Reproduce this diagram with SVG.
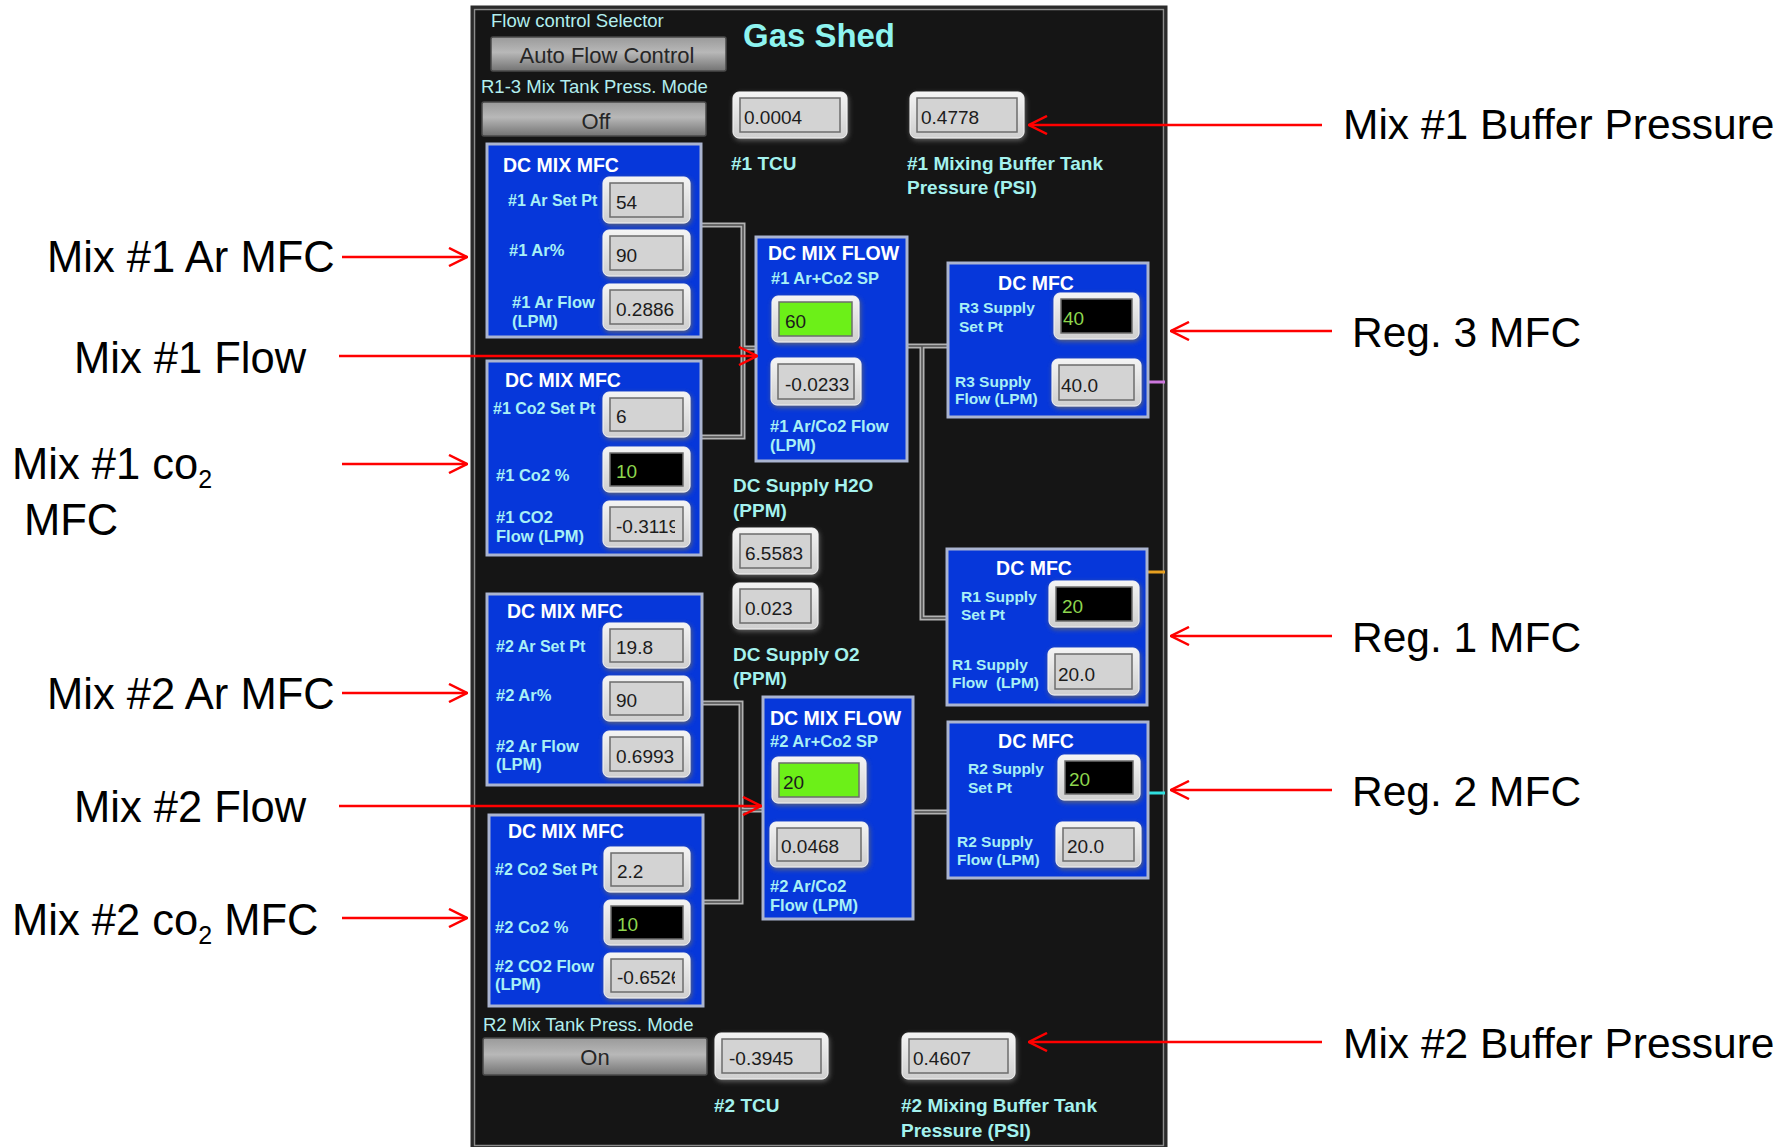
<svg xmlns="http://www.w3.org/2000/svg" width="1787" height="1147" viewBox="0 0 1787 1147">
<style>
  .ann{font-family:"Liberation Sans",Arial,sans-serif;font-size:43.5px;fill:#000}
  .annr{font-family:"Liberation Sans",Arial,sans-serif;font-size:42.5px;fill:#000}
  .sub{font-size:25px}
  .arrow{stroke:#ff0000;stroke-width:2.5;fill:none;marker-end:url(#head)}
  .ui{font-family:"Liberation Sans",Arial,sans-serif}
  .plain{font-size:18.5px;fill:#b2eeee}
  .olbl{font-size:19px;font-weight:bold;fill:#a4f2ee}
  .ttl{font-size:19.5px;font-weight:bold;fill:#ffffff}
  .mid{text-anchor:middle}
  .blbl{font-size:16.5px;font-weight:bold;fill:#a8f0f6}
  .nar{font-size:16px}
  .rlbl{font-size:15.5px;font-weight:bold;fill:#a8f0f6;white-space:pre}
  .blue{fill:#0637da;stroke:#aab4d0;stroke-width:3}
  .fr{fill:url(#frameG);stroke:#f5f5f5;stroke-width:1;filter:url(#halo)}
  .fld{fill:#d3d3d3;stroke:#6c6c6c;stroke-width:1.5}
  .blk{fill:#000000}
  .grn{fill:#6cf018}
  .val{font-size:19px;fill:#1c1c1c}
  .g{fill:#8ed64e}
  .btn{fill:url(#btnG);stroke:#4a4a4a;stroke-width:1.5}
  .btxt{font-size:22px;fill:#262626;text-anchor:middle}
  .pipe{fill:none;stroke:#b2b2b2;stroke-width:5}
  .pipe-in{fill:none;stroke:#4e4e4e;stroke-width:1.5}
</style>
<defs>
  <marker id="head" viewBox="0 0 20 20" refX="19" refY="10" markerWidth="20" markerHeight="20" markerUnits="userSpaceOnUse" orient="auto">
    <path d="M1,1 L19,10 L1,19" fill="none" stroke="#ff0000" stroke-width="2.5"/>
  </marker>
  <linearGradient id="frameG" x1="0" y1="0" x2="0" y2="1">
    <stop offset="0" stop-color="#f4f4f4"/>
    <stop offset="1" stop-color="#cfcfcf"/>
  </linearGradient>
  <linearGradient id="btnG" x1="0" y1="0" x2="0" y2="1">
    <stop offset="0" stop-color="#9a9a9a"/>
    <stop offset="0.45" stop-color="#b8b8b8"/>
    <stop offset="1" stop-color="#737373"/>
  </linearGradient>
  <filter id="halo" x="-20%" y="-25%" width="140%" height="160%">
    <feDropShadow dx="1" dy="2" stdDeviation="2.5" flood-color="#6b6b6b" flood-opacity="0.9"/>
  </filter>
  <clipPath id="clipA"><rect x="610" y="507" width="65" height="34"/></clipPath>
  <clipPath id="clipB"><rect x="611" y="959" width="64" height="33"/></clipPath>
</defs>

<rect x="0" y="0" width="1787" height="1147" fill="#ffffff"/>

<!-- front panel -->
<g id="panel">
  <rect x="472" y="7" width="694" height="1141" fill="#151515" stroke="#2b2b2b" stroke-width="3"/>
  <rect x="474.5" y="9.5" width="689" height="1136" fill="none" stroke="#8c8c8c" stroke-width="1.5"/>
  <text class="ui" x="743" y="47" font-size="34" font-weight="bold" fill="#8ef4f0" textLength="152" lengthAdjust="spacingAndGlyphs">Gas Shed</text>
</g>

<!-- colour stubs on the panel's right edge -->
<g id="stubs">
  <line x1="1149" y1="382" x2="1165" y2="382" stroke="#cc77dd" stroke-width="3"/>
  <line x1="1148" y1="572" x2="1165" y2="572" stroke="#e8a020" stroke-width="3"/>
  <line x1="1149" y1="793" x2="1165" y2="793" stroke="#30e0e0" stroke-width="3"/>
</g>

<!-- pipes between blocks -->
<g id="connectors">
  <path class="pipe" d="M701,225 H743 V437 H701 M743,348 H756"/>
  <path class="pipe-in" d="M701,225 H743 V437 H701 M743,348 H756"/>
  <path class="pipe" d="M907,346 H948 M922,346 V618 H947"/>
  <path class="pipe-in" d="M907,346 H948 M922,346 V618 H947"/>
  <path class="pipe" d="M702,703 H741 V902 H703 M741,810 H763"/>
  <path class="pipe-in" d="M702,703 H741 V902 H703 M741,810 H763"/>
  <path class="pipe" d="M913,812 H948"/>
  <path class="pipe-in" d="M913,812 H948"/>
</g>

<!-- selector controls -->
<g id="selector">
  <text class="ui plain" x="491" y="27" font-size="18">Flow control Selector</text>
  <rect class="btn" x="491" y="37" width="235" height="34" rx="2"/>
  <text class="ui btxt" x="607" y="63">Auto Flow Control</text>
</g>
<g id="mode1">
  <text class="ui plain" x="481" y="93">R1-3 Mix Tank Press. Mode</text>
  <rect class="btn" x="482" y="102" width="224" height="34" rx="2"/>
  <text class="ui btxt" x="596" y="129">Off</text>
</g>
<g id="tcu1">
  <rect class="fr" x="733" y="92" width="114" height="46" rx="6"/>
  <rect class="fld" x="740" y="98" width="100" height="34"/>
  <text class="ui val" x="744" y="124">0.0004</text>
  <text class="ui olbl" x="731" y="170">#1 TCU</text>
</g>
<g id="buffer1">
  <rect class="fr" x="910" y="92" width="114" height="46" rx="6"/>
  <rect class="fld" x="917" y="98" width="100" height="34"/>
  <text class="ui val" x="921" y="124">0.4778</text>
  <text class="ui olbl" x="907" y="170">#1 Mixing Buffer Tank</text>
  <text class="ui olbl" x="907" y="194">Pressure (PSI)</text>
</g>

<!-- mix 1 argon MFC -->
<g id="mix1-ar">
  <rect class="blue" x="487" y="144" width="214" height="193"/>
  <text class="ui ttl" x="503" y="172">DC MIX MFC</text>
  <text class="ui blbl nar" x="508" y="206">#1 Ar Set Pt</text>
  <text class="ui blbl" x="509" y="256">#1 Ar%</text>
  <text class="ui blbl" x="512" y="308">#1 Ar Flow</text>
  <text class="ui blbl" x="512" y="327">(LPM)</text>
  <rect class="fr" x="603" y="177" width="87" height="46" rx="6"/>
  <rect class="fld" x="610" y="183" width="73" height="34"/>
  <text class="ui val" x="616" y="209">54</text>
  <rect class="fr" x="603" y="230" width="87" height="46" rx="6"/>
  <rect class="fld" x="610" y="236" width="73" height="34"/>
  <text class="ui val" x="616" y="262">90</text>
  <rect class="fr" x="603" y="284" width="87" height="46" rx="6"/>
  <rect class="fld" x="610" y="290" width="73" height="34"/>
  <text class="ui val" x="616" y="316">0.2886</text>
</g>

<!-- mix 1 CO2 MFC -->
<g id="mix1-co2">
  <rect class="blue" x="487" y="361" width="214" height="194"/>
  <text class="ui ttl" x="505" y="387">DC MIX MFC</text>
  <text class="ui blbl nar" x="493" y="414">#1 Co2 Set Pt</text>
  <text class="ui blbl" x="496" y="481">#1 Co2 %</text>
  <text class="ui blbl" x="496" y="523">#1 CO2</text>
  <text class="ui blbl" x="496" y="542">Flow (LPM)</text>
  <rect class="fr" x="603" y="392" width="87" height="45" rx="6"/>
  <rect class="fld" x="610" y="398" width="73" height="33"/>
  <text class="ui val" x="616" y="423">6</text>
  <rect class="fr" x="603" y="447" width="87" height="45" rx="6"/>
  <rect class="fld blk" x="610" y="453" width="73" height="33"/>
  <text class="ui val g" x="616" y="478">10</text>
  <rect class="fr" x="603" y="501" width="87" height="46" rx="6"/>
  <rect class="fld" x="610" y="507" width="73" height="34"/>
  <text class="ui val" x="616" y="533" font-size="19.5" clip-path="url(#clipA)">-0.3119</text>
</g>

<!-- mix 1 flow -->
<g id="mix1-flow">
  <rect class="blue" x="756" y="237" width="151" height="224"/>
  <text class="ui ttl" x="768" y="260">DC MIX FLOW</text>
  <text class="ui blbl" x="771" y="284">#1 Ar+Co2 SP</text>
  <rect class="fr" x="772" y="296" width="87" height="46" rx="6"/>
  <rect class="fld grn" x="779" y="302" width="73" height="34"/>
  <text class="ui val" x="785" y="328">60</text>
  <rect class="fr" x="771" y="358" width="90" height="47" rx="6"/>
  <rect class="fld" x="778" y="364" width="76" height="35"/>
  <text class="ui val" x="785" y="391">-0.0233</text>
  <text class="ui blbl" x="770" y="432">#1 Ar/Co2 Flow</text>
  <text class="ui blbl" x="770" y="451">(LPM)</text>
</g>

<!-- supply moisture and oxygen -->
<g id="supply">
  <text class="ui olbl" x="733" y="492">DC Supply H2O</text>
  <text class="ui olbl" x="733" y="517">(PPM)</text>
  <rect class="fr" x="733" y="528" width="85" height="46" rx="6"/>
  <rect class="fld" x="740" y="534" width="71" height="34"/>
  <text class="ui val" x="745" y="560">6.5583</text>
  <rect class="fr" x="733" y="583" width="85" height="46" rx="6"/>
  <rect class="fld" x="740" y="589" width="71" height="34"/>
  <text class="ui val" x="745" y="615">0.023</text>
  <text class="ui olbl" x="733" y="661">DC Supply O2</text>
  <text class="ui olbl" x="733" y="685">(PPM)</text>
</g>

<!-- mix 2 argon MFC -->
<g id="mix2-ar">
  <rect class="blue" x="487" y="594" width="215" height="191"/>
  <text class="ui ttl" x="507" y="618">DC MIX MFC</text>
  <text class="ui blbl nar" x="496" y="652">#2 Ar Set Pt</text>
  <text class="ui blbl" x="496" y="701">#2 Ar%</text>
  <text class="ui blbl" x="496" y="752">#2 Ar Flow</text>
  <text class="ui blbl" x="496" y="770">(LPM)</text>
  <rect class="fr" x="603" y="623" width="87" height="45" rx="6"/>
  <rect class="fld" x="610" y="629" width="73" height="33"/>
  <text class="ui val" x="616" y="654">19.8</text>
  <rect class="fr" x="603" y="676" width="87" height="45" rx="6"/>
  <rect class="fld" x="610" y="682" width="73" height="33"/>
  <text class="ui val" x="616" y="707">90</text>
  <rect class="fr" x="603" y="731" width="87" height="46" rx="6"/>
  <rect class="fld" x="610" y="737" width="73" height="34"/>
  <text class="ui val" x="616" y="763">0.6993</text>
</g>

<!-- mix 2 CO2 MFC -->
<g id="mix2-co2">
  <rect class="blue" x="489" y="815" width="214" height="191"/>
  <text class="ui ttl" x="508" y="838">DC MIX MFC</text>
  <text class="ui blbl nar" x="495" y="875">#2 Co2 Set Pt</text>
  <text class="ui blbl" x="495" y="933">#2 Co2 %</text>
  <text class="ui blbl" x="495" y="972">#2 CO2 Flow</text>
  <text class="ui blbl" x="495" y="990">(LPM)</text>
  <rect class="fr" x="604" y="847" width="86" height="45" rx="6"/>
  <rect class="fld" x="611" y="853" width="72" height="33"/>
  <text class="ui val" x="617" y="878">2.2</text>
  <rect class="fr" x="604" y="900" width="86" height="45" rx="6"/>
  <rect class="fld blk" x="611" y="906" width="72" height="33"/>
  <text class="ui val g" x="617" y="931">10</text>
  <rect class="fr" x="604" y="953" width="86" height="45" rx="6"/>
  <rect class="fld" x="611" y="959" width="72" height="33"/>
  <text class="ui val" x="617" y="984" font-size="19.5" clip-path="url(#clipB)">-0.6526</text>
</g>

<!-- mix 2 flow -->
<g id="mix2-flow">
  <rect class="blue" x="763" y="697" width="150" height="222"/>
  <text class="ui ttl" x="770" y="725">DC MIX FLOW</text>
  <text class="ui blbl" x="770" y="747">#2 Ar+Co2 SP</text>
  <rect class="fr" x="772" y="757" width="94" height="46" rx="6"/>
  <rect class="fld grn" x="779" y="763" width="80" height="34"/>
  <text class="ui val" x="783" y="789">20</text>
  <rect class="fr" x="770" y="822" width="98" height="45" rx="6"/>
  <rect class="fld" x="777" y="828" width="84" height="33"/>
  <text class="ui val" x="781" y="853">0.0468</text>
  <text class="ui blbl" x="770" y="892">#2 Ar/Co2</text>
  <text class="ui blbl" x="770" y="911">Flow (LPM)</text>
</g>

<!-- region 3 supply MFC -->
<g id="reg3">
  <rect class="blue" x="948" y="263" width="200" height="154"/>
  <text class="ui ttl mid" x="1036" y="290">DC MFC</text>
  <text class="ui rlbl" x="959" y="313">R3 Supply</text>
  <text class="ui rlbl" x="959" y="332">Set Pt</text>
  <text class="ui rlbl" x="955" y="387">R3 Supply</text>
  <text class="ui rlbl" x="955" y="404">Flow (LPM)</text>
  <rect class="fr" x="1054" y="293" width="85" height="46" rx="6"/>
  <rect class="fld blk" x="1061" y="299" width="71" height="34"/>
  <text class="ui val g" x="1063" y="325">40</text>
  <rect class="fr" x="1052" y="359" width="89" height="47" rx="6"/>
  <rect class="fld" x="1059" y="365" width="75" height="35"/>
  <text class="ui val" x="1061" y="392">40.0</text>
</g>

<!-- region 1 supply MFC -->
<g id="reg1">
  <rect class="blue" x="947" y="549" width="200" height="156"/>
  <text class="ui ttl mid" x="1034" y="575">DC MFC</text>
  <text class="ui rlbl" x="961" y="602">R1 Supply</text>
  <text class="ui rlbl" x="961" y="620">Set Pt</text>
  <text class="ui rlbl" x="952" y="670">R1 Supply</text>
  <text class="ui rlbl" x="952" y="688">Flow  (LPM)</text>
  <rect class="fr" x="1049" y="581" width="90" height="46" rx="6"/>
  <rect class="fld blk" x="1056" y="587" width="76" height="34"/>
  <text class="ui val g" x="1062" y="613">20</text>
  <rect class="fr" x="1048" y="648" width="91" height="47" rx="6"/>
  <rect class="fld" x="1055" y="654" width="77" height="35"/>
  <text class="ui val" x="1058" y="681">20.0</text>
</g>

<!-- region 2 supply MFC -->
<g id="reg2">
  <rect class="blue" x="948" y="722" width="200" height="156"/>
  <text class="ui ttl mid" x="1036" y="748">DC MFC</text>
  <text class="ui rlbl" x="968" y="774">R2 Supply</text>
  <text class="ui rlbl" x="968" y="793">Set Pt</text>
  <text class="ui rlbl" x="957" y="847">R2 Supply</text>
  <text class="ui rlbl" x="957" y="865">Flow (LPM)</text>
  <rect class="fr" x="1058" y="755" width="82" height="45" rx="6"/>
  <rect class="fld blk" x="1065" y="761" width="68" height="33"/>
  <text class="ui val g" x="1069" y="786">20</text>
  <rect class="fr" x="1056" y="822" width="85" height="45" rx="6"/>
  <rect class="fld" x="1063" y="828" width="71" height="33"/>
  <text class="ui val" x="1067" y="853">20.0</text>
</g>

<!-- mix 2 tank pressure controls -->
<g id="mode2">
  <text class="ui plain" x="483" y="1031">R2 Mix Tank Press. Mode</text>
  <rect class="btn" x="483" y="1038" width="224" height="37" rx="2"/>
  <text class="ui btxt" x="595" y="1065">On</text>
</g>
<g id="tcu2">
  <rect class="fr" x="715" y="1033" width="113" height="46" rx="6"/>
  <rect class="fld" x="722" y="1039" width="99" height="34"/>
  <text class="ui val" x="729" y="1065">-0.3945</text>
  <text class="ui olbl" x="714" y="1112">#2 TCU</text>
</g>
<g id="buffer2">
  <rect class="fr" x="902" y="1033" width="113" height="46" rx="6"/>
  <rect class="fld" x="909" y="1039" width="99" height="34"/>
  <text class="ui val" x="913" y="1065">0.4607</text>
  <text class="ui olbl" x="901" y="1112">#2 Mixing Buffer Tank</text>
  <text class="ui olbl" x="901" y="1137">Pressure (PSI)</text>
</g>

<!-- callout arrows -->
<g id="callouts">
  <line class="arrow" x1="342" y1="257" x2="467" y2="257"/>
  <line class="arrow" x1="339" y1="356" x2="757" y2="356"/>
  <line class="arrow" x1="342" y1="464" x2="467" y2="464"/>
  <line class="arrow" x1="342" y1="693" x2="467" y2="693"/>
  <line class="arrow" x1="339" y1="806" x2="761" y2="806"/>
  <line class="arrow" x1="342" y1="918" x2="467" y2="918"/>
  <line class="arrow" x1="1322" y1="125" x2="1029" y2="125"/>
  <line class="arrow" x1="1332" y1="331" x2="1171" y2="331"/>
  <line class="arrow" x1="1332" y1="636" x2="1171" y2="636"/>
  <line class="arrow" x1="1332" y1="790" x2="1171" y2="790"/>
  <line class="arrow" x1="1322" y1="1042" x2="1029" y2="1042"/>
</g>

<!-- callout labels -->
<g id="labels">
  <text class="ann" x="47" y="272">Mix #1 Ar MFC</text>
  <text class="ann" x="74" y="373">Mix #1 Flow</text>
  <text class="ann" x="12" y="479">Mix #1 co<tspan class="sub" dy="9">2</tspan></text>
  <text class="ann" x="24" y="535">MFC</text>
  <text class="ann" x="47" y="709">Mix #2 Ar MFC</text>
  <text class="ann" x="74" y="822">Mix #2 Flow</text>
  <text class="ann" x="12" y="935">Mix #2 co<tspan class="sub" dy="9">2</tspan><tspan dy="-9"> MFC</tspan></text>
  <text class="annr" x="1343" y="139">Mix #1 Buffer Pressure</text>
  <text class="annr" x="1352" y="347">Reg. 3 MFC</text>
  <text class="annr" x="1352" y="652">Reg. 1 MFC</text>
  <text class="annr" x="1352" y="806">Reg. 2 MFC</text>
  <text class="annr" x="1343" y="1058">Mix #2 Buffer Pressure</text>
</g>
</svg>
